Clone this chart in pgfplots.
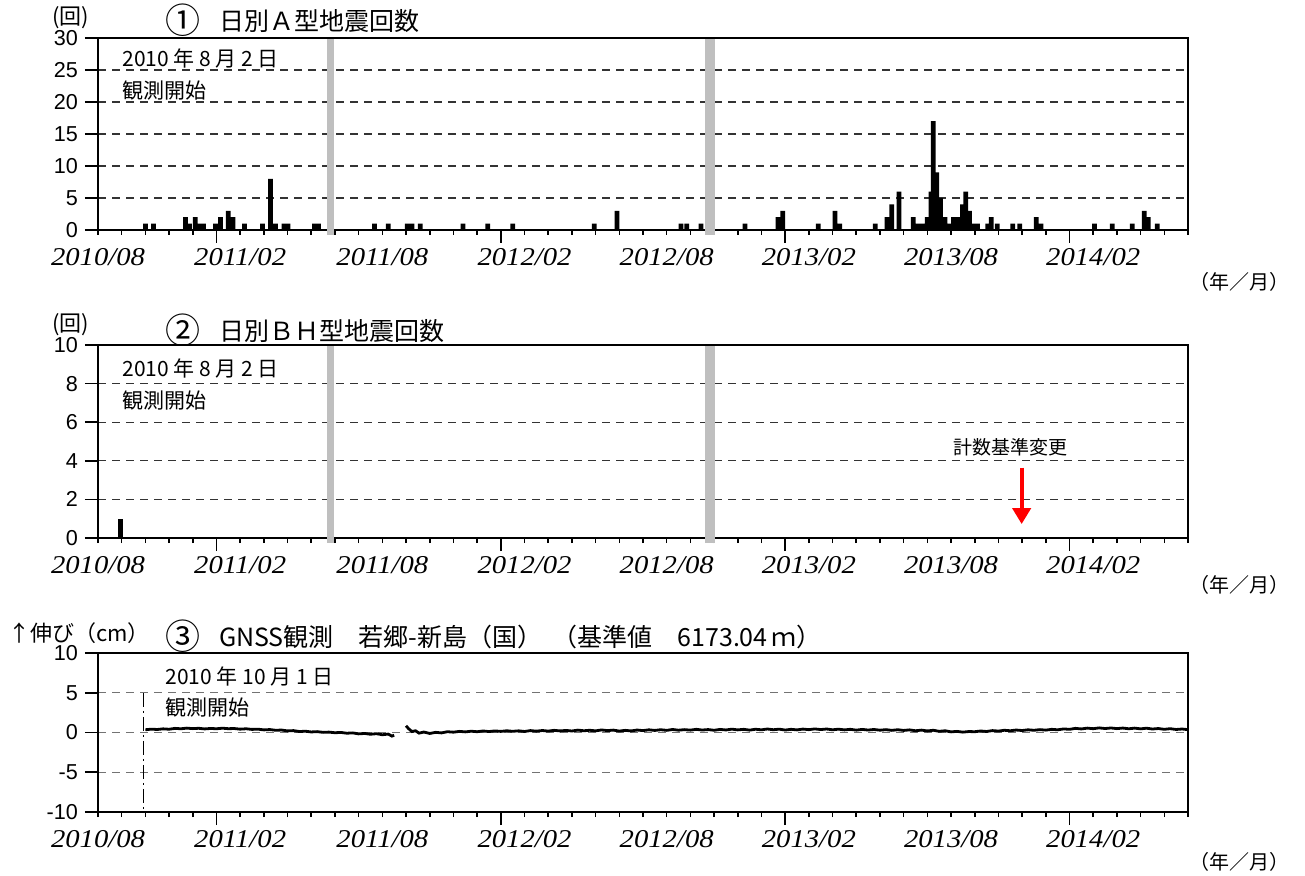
\documentclass[border=0pt]{standalone}
\usepackage{fontspec}
\setmainfont{Noto Sans CJK JP}
\newfontfamily\numfont{Liberation Sans}
\newfontfamily\datefont[FakeStretch=1.12]{Liberation Serif}
\usepackage{pgfplots}
\pgfplotsset{compat=1.18}
\usetikzlibrary{arrows.meta}

\newcommand{\circnum}[1]{\raisebox{-0.12em}{\scalebox{1.4}{#1}}}

\pgfplotsset{
 mybase/.style={
  scale only axis, width=545pt, xmin=0, xmax=46,
  axis line style={line width=1.1pt},
  tick align=outside, xtick pos=bottom, ytick pos=left,
  major tick length=6.5pt, minor tick length=2.5pt,
  tick style={black, line width=0.8pt},
  xtick={5,17,29,41}, xticklabels={},
  minor xtick={0,1,...,46},
  extra x ticks={0,6,12,18,24,30,36,42},
  extra x tick labels={2010/08,2011/02,2011/08,2012/02,2012/08,2013/02,2013/08,2014/02},
  extra x tick style={tick style={draw=none}, xticklabel style={font=\datefont\itshape\fontsize{12.8}{14}\selectfont, yshift=1pt}},
  ymajorgrids, grid style={dash pattern=on 4pt off 3pt, black!80, line width=0.65pt},
  yticklabel style={font=\numfont\fontsize{10.8}{12}\selectfont},
  clip=false,
 }
}

\begin{document}
\begin{tikzpicture}
\path[use as bounding box] (0,0) rectangle (652.5pt,-438pt);

% ---------------- Panel 1 ----------------
\begin{axis}[mybase, at={(49pt,-115pt)}, anchor=south west, height=96pt,
  ymin=0, ymax=30, ytick={0,5,10,15,20,25,30}, yticklabels={0,5,10,15,20,25,30}]
\addplot[ybar, bar width=0.2, fill=black, draw=none] coordinates {
(2.00,1) (2.34,1) (3.69,2) (3.86,1) (4.10,2) (4.30,1) (4.45,1) (4.96,1) (5.17,2)
(5.50,3) (5.70,2) (6.18,1) (6.94,1) (7.28,8) (7.49,1) (7.85,1) (8.02,1) (9.14,1) (9.31,1)
(11.67,1) (12.25,1) (13.05,1) (13.25,1) (13.60,1) (15.40,1) (16.45,1) (17.50,1)
(20.94,1) (21.90,3) (24.60,1) (24.85,1) (25.45,1)
(27.30,1) (28.70,2) (28.90,3)
(30.40,1) (31.10,3) (31.30,1) (32.80,1) (33.30,2) (33.50,4) (33.80,6) (34.40,2) (34.60,1)
(34.80,1) (35.00,2) (35.15,6) (35.25,17) (35.40,9) (35.55,5) (35.75,2) (35.95,1) (36.10,2)
(36.30,2) (36.48,4) (36.62,6) (36.78,3) (36.95,1) (37.12,1) (37.55,1) (37.70,2) (37.95,1)
(38.60,1) (38.90,1) (39.60,2) (39.80,1) (42.05,1) (42.80,1) (43.65,1) (44.15,3) (44.32,2) (44.70,1)
};
\fill[gray!50] (axis cs:9.65,-0.8) rectangle (axis cs:9.95,29.8);
\fill[gray!50] (axis cs:25.62,-0.8) rectangle (axis cs:26.05,29.8);
\end{axis}

% ---------------- Panel 2 ----------------
\begin{axis}[mybase, at={(49pt,-269pt)}, anchor=south west, height=96.5pt,
  ymin=0, ymax=10, ytick={0,2,4,6,8,10}, yticklabels={0,2,4,6,8,10}]
\addplot[ybar, bar width=0.2, fill=black, draw=none] coordinates {(0.95,1)};
\fill[gray!50] (axis cs:9.65,-0.27) rectangle (axis cs:9.95,9.93);
\fill[gray!50] (axis cs:25.62,-0.27) rectangle (axis cs:26.05,9.93);
\draw[red, line width=2pt, -{Triangle[width=9pt,length=8pt]}] (axis cs:38.98,3.65) -- (axis cs:38.98,0.72);
\end{axis}

% ---------------- Panel 3 ----------------
\begin{axis}[mybase, at={(49pt,-406pt)}, anchor=south west, height=79.5pt,
  ymin=-10, ymax=10, ytick={-10,-5,0,5,10}, yticklabels={-10,-5,0,5,10},
  grid style={dash pattern=on 4pt off 3pt, black!55, line width=0.6pt}]
\draw[line width=0.9pt, dash pattern=on 7pt off 2pt on 1pt off 2pt] (axis cs:1.92,5) -- (axis cs:1.92,-10);
\addplot[black, line width=1.4pt] coordinates {
(2.00,0.35) (2.25,0.42) (2.50,0.38) (2.75,0.46) (3.00,0.41) (3.25,0.52) (3.50,0.47) (3.75,0.55)
(4.00,0.49) (4.25,0.53) (4.50,0.45) (4.75,0.51) (5.00,0.47) (5.25,0.54) (5.50,0.48) (5.75,0.50)
(6.00,0.42) (6.25,0.47) (6.50,0.39) (6.75,0.42) (7.00,0.33) (7.25,0.37) (7.50,0.28) (7.75,0.31)
(8.00,0.20) (8.25,0.24) (8.50,0.12) (8.75,0.16) (9.00,0.07) (9.25,0.11) (9.50,0.02) (9.75,0.05)
(10.00,-0.03) (10.25,0.01) (10.50,-0.09) (10.75,-0.05) (11.00,-0.17) (11.25,-0.12) (11.50,-0.22)
(11.75,-0.15) (12.00,-0.28) (12.25,-0.20) (12.40,-0.45) (12.50,-0.35)
};
\addplot[black, line width=1.4pt] coordinates {
(13.00,0.85) (13.10,0.50) (13.25,0.12) (13.40,0.22) (13.55,-0.08) (13.75,0.06) (14.00,-0.12)
(14.25,0.02) (14.50,-0.05) (14.75,0.10) (15.00,0.04) (15.25,0.14) (15.50,0.08) (15.75,0.16)
(16.00,0.10) (16.25,0.19) (16.50,0.12) (16.75,0.20) (17.00,0.14) (17.25,0.22) (17.50,0.15)
(17.75,0.21) (18.00,0.13) (18.25,0.24) (18.50,0.17) (18.75,0.25) (19.00,0.18) (19.25,0.27)
(19.50,0.20) (19.75,0.26) (20.00,0.19) (20.25,0.30) (20.50,0.22) (20.75,0.28) (21.00,0.21)
(21.25,0.32) (21.50,0.24) (21.75,0.30) (22.00,0.18) (22.25,0.27) (22.50,0.20) (22.75,0.31)
(23.00,0.24) (23.25,0.34) (23.50,0.26) (23.75,0.35) (24.00,0.27) (24.25,0.38) (24.50,0.29)
(24.75,0.36) (25.00,0.30) (25.25,0.40) (25.50,0.31) (25.75,0.37) (26.00,0.28) (26.25,0.39)
(26.50,0.32) (26.75,0.42) (27.00,0.33) (27.25,0.40) (27.50,0.30) (27.75,0.41) (28.00,0.34)
(28.25,0.44) (28.50,0.35) (28.75,0.42) (29.00,0.31) (29.25,0.40) (29.50,0.33) (29.75,0.43)
(30.00,0.36) (30.25,0.45) (30.50,0.37) (30.75,0.44) (31.00,0.34) (31.25,0.42) (31.50,0.33)
(31.75,0.40) (32.00,0.30) (32.25,0.39) (32.50,0.31) (32.75,0.38) (33.00,0.29) (33.25,0.36)
(33.50,0.27) (33.75,0.35) (34.00,0.26) (34.25,0.33) (34.50,0.22) (34.75,0.30) (35.00,0.20)
(35.25,0.28) (35.50,0.15) (35.75,0.22) (36.00,0.08) (36.25,0.14) (36.50,0.05) (36.75,0.12)
(37.00,0.10) (37.25,0.19) (37.50,0.13) (37.75,0.24) (38.00,0.18) (38.25,0.28) (38.50,0.22)
(38.75,0.31) (39.00,0.25) (39.25,0.34) (39.50,0.28) (39.75,0.36) (40.00,0.30) (40.25,0.40)
(40.50,0.34) (40.75,0.45) (41.00,0.40) (41.25,0.52) (41.50,0.45) (41.75,0.55) (42.00,0.48)
(42.25,0.58) (42.50,0.50) (42.75,0.57) (43.00,0.49) (43.25,0.56) (43.50,0.47) (43.75,0.55)
(44.00,0.46) (44.25,0.54) (44.50,0.44) (44.75,0.50) (45.00,0.40) (45.25,0.48) (45.50,0.38)
(45.75,0.44) (46.00,0.36)
};
\end{axis}

% ---------------- Texts ----------------
\begin{scope}[every node/.style={inner sep=0pt}]
\node[anchor=west, font=\fontsize{11}{12}\selectfont] at (26pt,-9pt) {(回)};
\node[anchor=west, font=\fontsize{12.5}{14}\selectfont] at (82.5pt,-10pt) {\circnum{①}\hspace{0.75em}日別Ａ型地震回数};
\node[anchor=west, font=\fontsize{10.5}{12}\selectfont] at (61pt,-29pt) {2010 年 8 月 2 日};
\node[anchor=west, font=\fontsize{10.5}{12}\selectfont] at (61pt,-45.5pt) {観測開始};
\node[anchor=east, font=\fontsize{10}{12}\selectfont] at (645pt,-141pt) {（年／月）};

\node[anchor=west, font=\fontsize{11}{12}\selectfont] at (26pt,-162.5pt) {(回)};
\node[anchor=west, font=\fontsize{12.5}{14}\selectfont] at (82.5pt,-165pt) {\circnum{②}\hspace{0.75em}日別ＢＨ型地震回数};
\node[anchor=west, font=\fontsize{10.5}{12}\selectfont] at (61pt,-184pt) {2010 年 8 月 2 日};
\node[anchor=west, font=\fontsize{10.5}{12}\selectfont] at (61pt,-200.5pt) {観測開始};
\node[anchor=center, font=\fontsize{9.5}{11}\selectfont] at (505pt,-223.5pt) {計数基準変更};
\node[anchor=east, font=\fontsize{10}{12}\selectfont] at (645pt,-292.5pt) {（年／月）};

\node[anchor=west, font=\fontsize{11}{12}\selectfont] at (4pt,-316.5pt) {↑伸び（cm）};
\node[anchor=west, font=\fontsize{12.5}{14}\selectfont] at (82.5pt,-318pt) {\circnum{③}\hspace{0.75em}GNSS観測　若郷-新島（国）\hspace{0.4em}（基準値　6173.04\,ｍ）};
\node[anchor=west, font=\fontsize{10.5}{12}\selectfont] at (82.5pt,-338pt) {2010 年 10 月 1 日};
\node[anchor=west, font=\fontsize{10.5}{12}\selectfont] at (82.5pt,-354pt) {観測開始};
\node[anchor=east, font=\fontsize{10}{12}\selectfont] at (645pt,-431pt) {（年／月）};
\end{scope}
\end{tikzpicture}
\end{document}
